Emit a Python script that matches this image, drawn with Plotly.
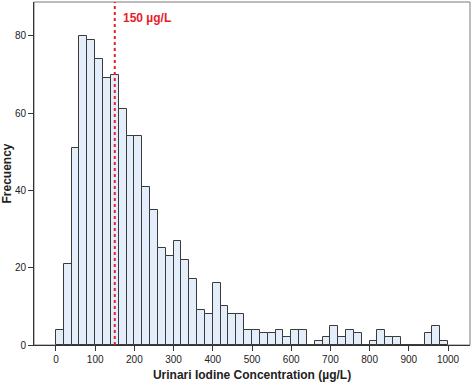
import plotly.graph_objects as go

bin_starts = list(range(0, 1000, 20))
bin_width = 20
counts = [4, 21, 51, 80, 79, 74, 69, 70, 61, 54,
          54, 41, 35, 25, 23, 27, 22, 17, 9, 8,
          16, 10, 8, 8, 4, 4, 3, 3, 4, 2,
          4, 4, 0, 1, 2, 5, 2, 4, 3, 0,
          1, 4, 2, 2, 0, 0, 0, 3, 5, 1]
x_ticks = list(range(0, 1001, 100))
y_ticks = [0, 20, 40, 60, 80]
ref_value = 150
ref_label = "150 µg/L"

centers = [s + bin_width / 2 for s in bin_starts]

fig = go.Figure()
fig.add_trace(go.Bar(
    x=centers, y=counts, width=bin_width,
    marker=dict(color="#E3EEFA", line=dict(color="#3a3a3a", width=1)),
    hoverinfo="skip",
))
fig.add_shape(type="line", x0=ref_value, x1=ref_value, y0=0, y1=1, yref="paper",
              line=dict(color="#E8202A", width=2, dash="dot"), layer="above")
fig.add_annotation(x=ref_value + 16, y=84.7, text="<b>" + ref_label + "</b>",
                   xanchor="left", yanchor="middle", showarrow=False,
                   font=dict(color="#E8202A", size=12, family="Liberation Sans, Arial"))
fig.add_shape(type="rect", xref="paper", yref="paper", x0=0, x1=1, y0=0, y1=1,
              line=dict(color="#7a7a7a", width=1), layer="below")

fig.update_layout(
    width=472, height=382,
    margin=dict(l=34, r=2, t=2, b=37),
    paper_bgcolor="white", plot_bgcolor="white",
    showlegend=False, bargap=0,
    font=dict(family="Liberation Sans, Arial", color="#222", size=10),
    xaxis=dict(range=[-56, 1056], tickvals=x_ticks, ticks="outside", ticklen=5,
               tickcolor="#333", showline=True, linecolor="#333", linewidth=1,
               showgrid=False, zeroline=False,
               title=dict(text="<b>Urinari Iodine Concentration (µg/L)</b>",
                          font=dict(size=12, color="#222"), standoff=8),
               automargin=False),
    yaxis=dict(range=[0, 88.8], tickvals=y_ticks, ticks="outside", ticklen=5,
               tickcolor="#333", showline=True, linecolor="#333", linewidth=1,
               showgrid=False, zeroline=False,
               title=dict(text="<b>Frecuency</b>", font=dict(size=12, color="#222"),
                          standoff=6),
               automargin=False),
)
fig.write_html("out.html", config={"displayModeBar": False},
               post_script="document.body.style.margin='0';")
